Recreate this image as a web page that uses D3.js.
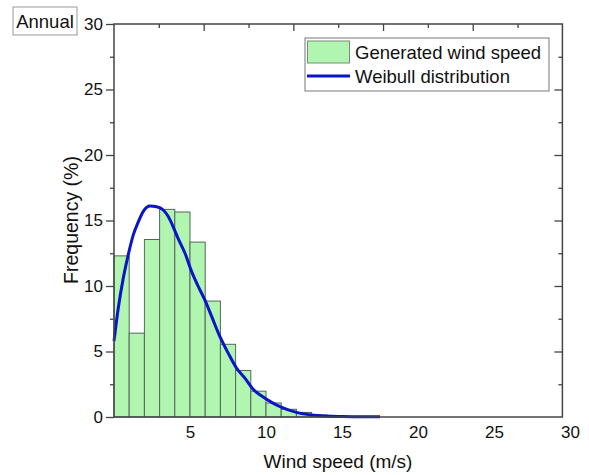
<!DOCTYPE html>
<html>
<head>
<meta charset="utf-8">
<script src="https://cdn.jsdelivr.net/npm/d3@7"></script>
<style>
  body { margin: 0; background: #fff; }
  svg text { font-family: "Liberation Sans", Arial, sans-serif; fill: #111; }
</style>
</head>
<body>
<svg id="svg1" width="589" height="475"></svg>
<script>
// histogram bins (m/s), width 1
var binStarts = [0, 1, 2, 3, 4, 5, 6, 7, 8, 9, 10, 11, 12, 13, 14, 15, 16];
var binFreq = [12.3, 6.4, 13.55, 15.85, 15.65, 13.35, 8.85, 5.55, 3.55, 1.97, 1.07, 0.59, 0.35, 0.15, 0.06, 0.03, 0.01];

// fitted weibull curve
var weibullX = [0, 0.28, 0.61, 0.94, 1.27, 1.6, 1.93, 2.37, 2.8, 3.24, 3.57, 3.9, 4.23, 4.67, 5.11, 5.55, 5.99,
                6.43, 6.97, 7.52, 8.07, 8.62, 9.17, 9.72, 10.4, 11, 12, 13, 14, 15, 16, 17.5];
var weibullY = [5.8, 8.3, 10.6, 12.4, 13.9, 14.9, 15.7, 16.1, 16.05, 15.8, 15.3, 14.5, 13.6, 12.5, 11.1, 9.95, 8.9,
                7.66, 6.13, 4.86, 3.72, 2.95, 2.1, 1.6, 1.1, 0.75, 0.35, 0.15, 0.07, 0.04, 0.02, 0.01];

var xTicks = [5, 10, 15, 20, 25, 30];
var yTicks = [0, 5, 10, 15, 20, 25, 30];

//set up constants
var plotLeft = 114, plotRight = 562.4, plotTop = 24, plotBottom = 417;

var svg = d3.select("#svg1");

var xScale = d3.scaleLinear().domain([0, 29.5]).range([plotLeft, plotRight]);
var topScale = d3.scaleLinear().domain([0, 30]).range([plotLeft, plotRight]);
var yScale = d3.scaleLinear().domain([0, 30]).range([plotBottom, plotTop]);

var minorY = d3.range(0, 30.01, 2.5).filter(function(v){ return v % 5 != 0; });
var majorY = [5, 10, 15, 20, 25];

//BARS
svg.append("g")
  .selectAll("rect")
  .data(binStarts)
  .enter()
  .append("rect")
    .attr("x", function(d){ return xScale(d); })
    .attr("y", function(d, i){ return yScale(binFreq[i]); })
    .attr("width", function(d){ return xScale(d + 1) - xScale(d); })
    .attr("height", function(d, i){ return plotBottom - yScale(binFreq[i]); })
    .style("fill", "#b0f5b0")
    .style("stroke", "#56665a")
    .style("stroke-width", 1);

//CURVE
var line = d3.line()
  .x(function(d){ return xScale(d); })
  .y(function(d, i){ return yScale(weibullY[i]); })
  .curve(d3.curveMonotoneX);

svg.append("path")
  .attr("d", line(weibullX))
  .style("fill", "none")
  .style("stroke", "#0a14c8")
  .style("stroke-width", 3)
  .style("stroke-linejoin", "round");

//AXES
var axisColor = "#444";

// bottom axis (labels only)
var x_axis = d3.axisBottom(xScale).tickValues(xTicks).tickSize(0).tickPadding(9);
var gx = svg.append("g")
  .attr("transform", "translate(0," + plotBottom + ")")
  .call(x_axis);
gx.selectAll("text").style("font-size", "17px");

// left axis, outward ticks
var y_axis = d3.axisLeft(yScale).tickValues(yTicks).tickSize(8).tickPadding(3);
var gy = svg.append("g")
  .attr("transform", "translate(" + plotLeft + ",0)")
  .call(y_axis);
gy.selectAll("text").style("font-size", "17px");
svg.append("g")
  .attr("transform", "translate(" + plotLeft + ",0)")
  .call(d3.axisLeft(yScale).tickValues(minorY).tickSize(4).tickFormat(""));

// right axis, inward ticks
svg.append("g")
  .attr("transform", "translate(" + plotRight + ",0)")
  .call(d3.axisLeft(yScale).tickValues(majorY).tickSize(8).tickFormat(""));
svg.append("g")
  .attr("transform", "translate(" + plotRight + ",0)")
  .call(d3.axisLeft(yScale).tickValues(minorY).tickSize(4).tickFormat(""));

// top axis, inward ticks
svg.append("g")
  .attr("transform", "translate(0," + plotTop + ")")
  .call(d3.axisBottom(topScale).tickValues([6, 12, 18, 24]).tickSize(7).tickFormat(""));
svg.append("g")
  .attr("transform", "translate(0," + plotTop + ")")
  .call(d3.axisBottom(topScale).tickValues([3, 9, 15, 21, 27]).tickSize(4).tickFormat(""));

svg.selectAll(".domain").remove();
svg.selectAll(".tick line").style("stroke", axisColor).style("stroke-width", 1.3);

// frame
svg.append("rect")
  .attr("x", plotLeft).attr("y", plotTop)
  .attr("width", plotRight - plotLeft).attr("height", plotBottom - plotTop)
  .style("fill", "none")
  .style("stroke", axisColor)
  .style("stroke-width", 1.5);

//AXIS TITLES
svg.append("text")
  .attr("x", 338)
  .attr("y", 468)
  .attr("text-anchor", "middle")
  .style("font-size", "19px")
  .text("Wind speed (m/s)");

svg.append("text")
  .attr("transform", "translate(78," + 220 + ") rotate(-90)")
  .attr("text-anchor", "middle")
  .style("font-size", "19.5px")
  .text("Frequency (%)");

//ANNUAL LABEL
svg.append("rect")
  .attr("x", 13).attr("y", 7).attr("width", 64).attr("height", 28)
  .style("fill", "#fff").style("stroke", "#999").style("stroke-width", 1);
svg.append("text")
  .attr("x", 45).attr("y", 28)
  .attr("text-anchor", "middle")
  .style("font-size", "18.5px")
  .text("Annual");

//LEGEND
var legend = svg.append("g");
legend.append("rect")
  .attr("x", 305).attr("y", 38).attr("width", 244).attr("height", 53)
  .style("fill", "#fff").style("stroke", "#777").style("stroke-width", 1);
legend.append("rect")
  .attr("x", 307.5).attr("y", 41).attr("width", 42).attr("height", 22)
  .style("fill", "#b0f5b0").style("stroke", "#7a8a7a").style("stroke-width", 1);
legend.append("text")
  .attr("x", 355).attr("y", 58.5)
  .style("font-size", "18.5px")
  .text("Generated wind speed");
legend.append("line")
  .attr("x1", 307).attr("x2", 350).attr("y1", 76).attr("y2", 76)
  .style("stroke", "#0a14c8").style("stroke-width", 3);
legend.append("text")
  .attr("x", 355).attr("y", 83)
  .style("font-size", "18.5px")
  .text("Weibull distribution");
</script>
</body>
</html>
